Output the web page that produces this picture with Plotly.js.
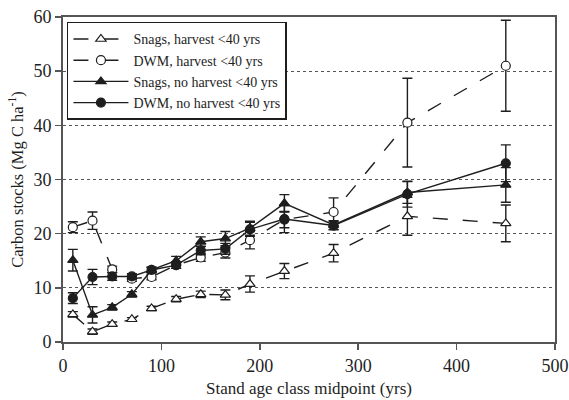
<!DOCTYPE html>
<html>
<head>
<meta charset="utf-8">
<script src="https://cdn.plot.ly/plotly-3.0.1.min.js"></script>
<style>html,body{margin:0;padding:0;background:#fff;}#chart{width:569px;height:400px;}</style>
</head>
<body>
<div id="chart"></div>
<script>
const ages = [10, 30, 50, 70, 90, 115, 140, 165, 190, 225, 275, 350, 450];

const snagsHarvest    = [5.1, 1.9, 3.3, 4.2, 6.2, 7.9, 8.8, 8.7, 10.7, 13.1, 16.4, 23.2, 21.9];
const snagsHarvestErr = [0.5, 0.5, 0.4, 0.3, 0.4, 0.5, 0.6, 0.9, 1.5, 1.4, 1.6, 3.5, 3.4];

const dwmHarvest    = [21.2, 22.4, 13.4, 11.7, 12.0, 14.2, 15.6, 16.5, 18.8, 22.6, 24.0, 40.5, 51.0];
const dwmHarvestErr = [1.0, 1.6, 0.6, 0.5, 0.5, 0.6, 0.7, 1.0, 1.6, 1.5, 2.6, 8.2, 8.4];

const snagsNoHarvest    = [15.1, 5.0, 6.4, 8.8, 13.3, 15.0, 18.5, 19.1, 21.0, 25.6, 21.6, 27.6, 29.0];
const snagsNoHarvestErr = [2.0, 1.5, 0.5, 0.5, 0.5, 0.8, 0.9, 1.3, 1.3, 1.6, 0.8, 2.0, 3.2];

const dwmNoHarvest    = [8.1, 12.0, 12.1, 12.1, 13.3, 14.2, 16.9, 17.2, 20.8, 22.7, 21.5, 27.3, 33.0];
const dwmNoHarvestErr = [1.0, 1.4, 0.7, 0.5, 0.5, 0.6, 0.8, 1.0, 1.3, 2.5, 0.8, 2.4, 3.4];

const names = ["Snags, harvest <40 yrs", "DWM, harvest <40 yrs", "Snags, no harvest <40 yrs", "DWM, no harvest <40 yrs"];

const ink = "#1e1e1e";
function tr(y, err, name, symbol, fill, dash) {
  return {
    x: ages, y: y, name: name, type: "scatter", mode: "lines+markers",
    line: {color: ink, width: 1.4, dash: dash},
    marker: {symbol: symbol, size: 9, color: fill, line: {color: ink, width: 1.2}},
    error_y: {type: "data", array: err, visible: true, color: ink, thickness: 1.4, width: 5}
  };
}
const data = [
  tr(snagsHarvest, snagsHarvestErr, names[0], "triangle-up", "#fff", "longdash"),
  tr(dwmHarvest, dwmHarvestErr, names[1], "circle", "#fff", "longdash"),
  tr(snagsNoHarvest, snagsNoHarvestErr, names[2], "triangle-up", ink, "solid"),
  tr(dwmNoHarvest, dwmNoHarvestErr, names[3], "circle", ink, "solid")
];

const font = "Liberation Serif, Times New Roman, serif";
const layout = {
  width: 569, height: 400,
  margin: {l: 63, r: 14, t: 17, b: 58},
  paper_bgcolor: "#fff", plot_bgcolor: "#fff",
  font: {family: font, color: ink, size: 18},
  showlegend: true,
  legend: {
    x: 0.008, y: 0.985, xanchor: "left", yanchor: "top",
    bgcolor: "#fff", bordercolor: ink, borderwidth: 1.5,
    font: {family: font, size: 14, color: ink},
    tracegroupgap: 0, itemwidth: 55
  },
  xaxis: {
    range: [0, 500], tickvals: [0, 100, 200, 300, 400, 500],
    showline: true, linecolor: "#555", linewidth: 2, mirror: true,
    ticks: "outside", ticklen: 6, tickcolor: "#555", tickwidth: 1.5,
    showgrid: false, zeroline: false,
    tickfont: {size: 18},
    title: {text: "Stand age class midpoint (yrs)", font: {size: 17}, standoff: 8}
  },
  yaxis: {
    range: [0, 60], tickvals: [0, 10, 20, 30, 40, 50, 60],
    showline: true, linecolor: "#555", linewidth: 2, mirror: true,
    ticks: "outside", ticklen: 6, tickcolor: "#555", tickwidth: 1.5,
    showgrid: true, gridcolor: "#555", griddash: "dot", gridwidth: 1.2,
    zeroline: false,
    tickfont: {size: 18},
    title: {text: "Carbon stocks (Mg C ha<sup>-1</sup>)", font: {size: 16.5}, standoff: 6}
  }
};
Plotly.newPlot("chart", data, layout, {displayModeBar: false, staticPlot: true});
</script>
</body>
</html>
